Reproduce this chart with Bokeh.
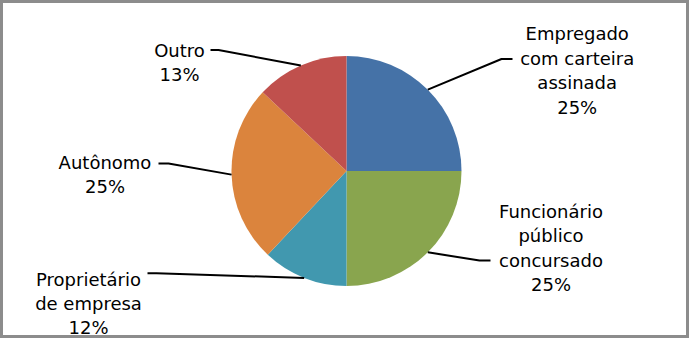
import math
from bokeh.plotting import figure
from bokeh.models import Range1d, ColumnDataSource
from bokeh.embed import file_html
from bokeh.resources import INLINE
from bokeh.core.properties import value

# ---- data ----
categories = ["Empregado com carteira assinada", "Funcionário público concursado",
              "Proprietário de empresa", "Autônomo", "Outro"]
label_lines = [["Empregado", "com carteira", "assinada"],
               ["Funcionário", "público", "concursado"],
               ["Proprietário", "de empresa"],
               ["Autônomo"],
               ["Outro"]]
percents = [25, 25, 12, 25, 13]
colors = ["#4572A7", "#89A54E", "#4198AF", "#DB843D", "#C0504D"]

# ---- layout (page pixel coordinates of the reference) ----
W, H = 689, 338
OFF = 0
def X(x):
    return x - OFF
def Y(y):
    return H + OFF - y

CX, CY, R = 346, 170.5, 115
# leader elbows/ends and label anchors (center x, first baseline y)
elbows = [(501, 58.5), (479, 260), (156, 272.7), (168, 163), (218, 49.5)]
ends = [(512, 58.5), (490, 260), (147, 272.7), (158, 163), (210, 49.5)]
anchors = [(576.7, 33.3), (550.5, 210.7), (88, 278.5), (104.5, 161.6), (179, 50)]
LINE_STEP = 24.4

p = figure(width=W, height=H, output_backend="svg", toolbar_location=None,
           x_range=Range1d(0, W), y_range=Range1d(0, H),
           x_axis_type=None, y_axis_type=None, min_border=0,
           background_fill_color="white", border_fill_color="white")
p.grid.visible = False
p.outline_line_color = "#8c8c8c"
p.outline_line_width = 5

total = sum(percents)
starts, stops, mids = [], [], []
cum = 0
for v in percents:
    a0 = 90 - 360 * cum / total
    cum += v
    a1 = 90 - 360 * cum / total
    starts.append(math.radians(a0))
    stops.append(math.radians(a1))
    mids.append(math.radians((a0 + a1) / 2))

src = ColumnDataSource(dict(x=[X(CX)] * len(percents), y=[Y(CY)] * len(percents),
                            start=starts, end=stops, color=colors, cat=categories))
p.wedge(x="x", y="y", radius=R, start_angle="start", end_angle="end",
        direction="clock", fill_color="color", line_color=None, source=src)

# leader lines
xs, ys = [], []
for m, e, n in zip(mids, elbows, ends):
    sx = CX + R * math.cos(m)
    sy = CY - R * math.sin(m)
    xs.append([X(sx), X(e[0]), X(n[0])])
    ys.append([Y(sy), Y(e[1]), Y(n[1])])
p.multi_line(xs=xs, ys=ys, line_color="black", line_width=2)

# labels
tx, ty, tt = [], [], []
for lines, pct, (ax, ay) in zip(label_lines, percents, anchors):
    all_lines = lines + [f"{pct}%"]
    for i, t in enumerate(all_lines):
        tx.append(X(ax))
        ty.append(Y(ay + i * LINE_STEP))
        tt.append(t)
p.text(x=tx, y=ty, text=tt, text_align="center", text_baseline="alphabetic",
       text_font=value("DejaVu Sans"), text_font_size="18px", text_color="black")

open("out.html", "w").write(file_html(p, INLINE))
